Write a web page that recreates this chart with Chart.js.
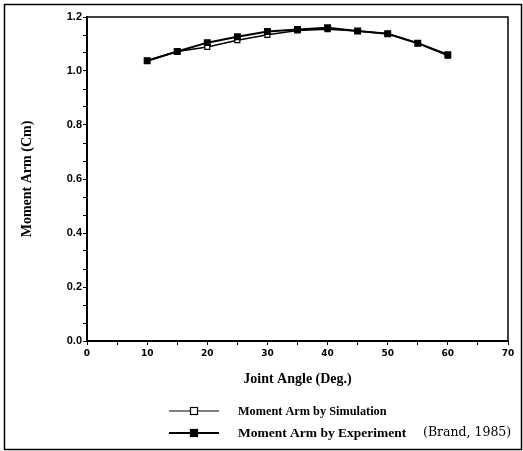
<!DOCTYPE html>
<html>
<head>
<meta charset="utf-8">
<script src="https://cdn.jsdelivr.net/npm/chart.js@4/dist/chart.umd.min.js"></script>
<style>
    html, body { margin: 0; padding: 0; background: #fff; }
    #wrap { width: 523px; height: 451px; position: relative; }
</style>
</head>
<body>
<div id="wrap"><canvas id="armChart" width="523" height="451"></canvas></div>
<script>
// ==========================================
// DATA
// ==========================================
const jointAngles = [10, 15, 20, 25, 30, 35, 40, 45, 50, 55, 60];
const simulationArm = [1.038, 1.072, 1.089, 1.114, 1.134, 1.150, 1.155, 1.148, 1.138, 1.103, 1.057];
const experimentArm = [1.038, 1.072, 1.105, 1.127, 1.146, 1.154, 1.160, 1.148, 1.138, 1.103, 1.060];

const xMajorTicks = [0, 10, 20, 30, 40, 50, 60, 70];
const yMajorTicks = [0.0, 0.2, 0.4, 0.6, 0.8, 1.0, 1.2];
const yMinorPerMajor = 3;

const simLabel = 'Moment Arm by Simulation';
const expLabel = 'Moment Arm by Experiment';
const expCite = '(Brand, 1985)';

// ==========================================
// CHART SETUP
// ==========================================
Chart.defaults.color = '#000';
Chart.defaults.font.family = "'Liberation Serif', serif";

const titleFont = { family: "'Liberation Serif', serif", size: 14, weight: 'bold' };

// box around the plot + frame around the whole figure + legend
const framePlugin = {
    id: 'frame',
    afterDraw(chart) {
        const c = chart.ctx;
        const a = chart.chartArea;
        c.save();
        c.strokeStyle = '#000';

        // plot box (top and right edges)
        c.lineWidth = 1.5;
        c.beginPath();
        c.moveTo(a.left, a.top);
        c.lineTo(a.right, a.top);
        c.lineTo(a.right, a.bottom);
        c.stroke();

        // outer frame
        c.lineWidth = 1.5;
        c.strokeRect(4.5, 4.5, 517, 445);

        // legend
        const rows = [
            { ds: chart.data.datasets[1], y: 411, lw: 1.2, fill: '#fff', size: 12.3 },
            { ds: chart.data.datasets[0], y: 433, lw: 2, fill: '#000', size: 13.5 }
        ];
        rows.forEach(r => {
            c.lineWidth = r.lw;
            c.beginPath();
            c.moveTo(169, r.y);
            c.lineTo(219, r.y);
            c.stroke();
            c.fillStyle = r.fill;
            c.lineWidth = 1.2;
            c.fillRect(190.5, r.y - 3.5, 7, 7);
            c.strokeRect(190.5, r.y - 3.5, 7, 7);
            c.fillStyle = '#000';
            c.font = 'bold ' + r.size + "px 'Liberation Serif', serif";
            c.textBaseline = 'middle';
            c.fillText(r.ds.label, 238, r.y + 1);
        });
        c.font = "12.5px 'DejaVu Serif', serif";
        c.fillText(expCite, 423, 433);
        c.restore();
    }
};

const ctx = document.getElementById('armChart').getContext('2d');

const armChart = new Chart(ctx, {
    type: 'line',
    data: {
        labels: jointAngles,
        datasets: [
            {
                label: expLabel,
                data: jointAngles.map((x, i) => ({ x: x, y: experimentArm[i] })),
                borderColor: '#000',
                borderWidth: 2,
                pointStyle: 'rect',
                pointRadius: 3.5,
                pointBackgroundColor: '#000',
                pointBorderColor: '#000',
                tension: 0,
                order: 0
            },
            {
                label: simLabel,
                data: jointAngles.map((x, i) => ({ x: x, y: simulationArm[i] })),
                borderColor: '#000',
                borderWidth: 1.5,
                pointStyle: 'rect',
                pointRadius: 3.5,
                pointBorderWidth: 1.2,
                pointBackgroundColor: '#fff',
                pointBorderColor: '#000',
                tension: 0,
                order: 1
            }
        ]
    },
    options: {
        responsive: false,
        animation: false,
        events: [],
        layout: { padding: { left: 0, top: 17, right: 15, bottom: 0 } },
        plugins: {
            legend: { display: false },
            tooltip: { enabled: false }
        },
        scales: {
            x: {
                type: 'linear',
                min: 0,
                max: 70,
                afterFit(scale) { scale.height = 110; },
                afterBuildTicks(scale) {
                    const t = [];
                    xMajorTicks.forEach((v, i) => {
                        t.push({ value: v });
                        if (i < xMajorTicks.length - 1) t.push({ value: (v + xMajorTicks[i + 1]) / 2 });
                    });
                    scale.ticks = t;
                },
                border: { display: true, width: 2, color: '#000' },
                grid: { drawOnChartArea: false, drawTicks: true, tickLength: 4, color: '#000', lineWidth: 1 },
                ticks: {
                    autoSkip: false,
                    maxRotation: 0,
                    padding: 3,
                    font: { family: "'DejaVu Sans', sans-serif", size: 9, weight: 'bold' },
                    callback: v => (xMajorTicks.includes(v) ? String(v) : '')
                },
                title: {
                    display: true,
                    text: 'Joint Angle (Deg.)',
                    font: titleFont,
                    padding: { top: 0, bottom: 63 }
                }
            },
            y: {
                type: 'linear',
                min: 0,
                max: 1.2,
                afterFit(scale) { scale.width = 87; },
                afterBuildTicks(scale) {
                    const t = [];
                    yMajorTicks.forEach((v, i) => {
                        t.push({ value: v, major: true });
                        if (i < yMajorTicks.length - 1) {
                            const step = (yMajorTicks[i + 1] - v) / yMinorPerMajor;
                            for (let k = 1; k < yMinorPerMajor; k++) t.push({ value: v + step * k });
                        }
                    });
                    scale.ticks = t;
                },
                border: { display: true, width: 2, color: '#000' },
                grid: { drawOnChartArea: false, drawTicks: true, tickLength: 4, color: '#000', lineWidth: 1 },
                ticks: {
                    autoSkip: false,
                    padding: 1,
                    font: { family: "'Liberation Sans', sans-serif", size: 11, weight: 'bold' },
                    callback: function (v) {
                        return yMajorTicks.some(m => Math.abs(m - v) < 1e-9) ? v.toFixed(1) : '';
                    }
                },
                title: {
                    display: true,
                    text: 'Moment Arm (Cm)',
                    font: titleFont,
                    padding: { top: 19, bottom: 0 }
                }
            }
        }
    },
    plugins: [framePlugin]
});
</script>
</body>
</html>
